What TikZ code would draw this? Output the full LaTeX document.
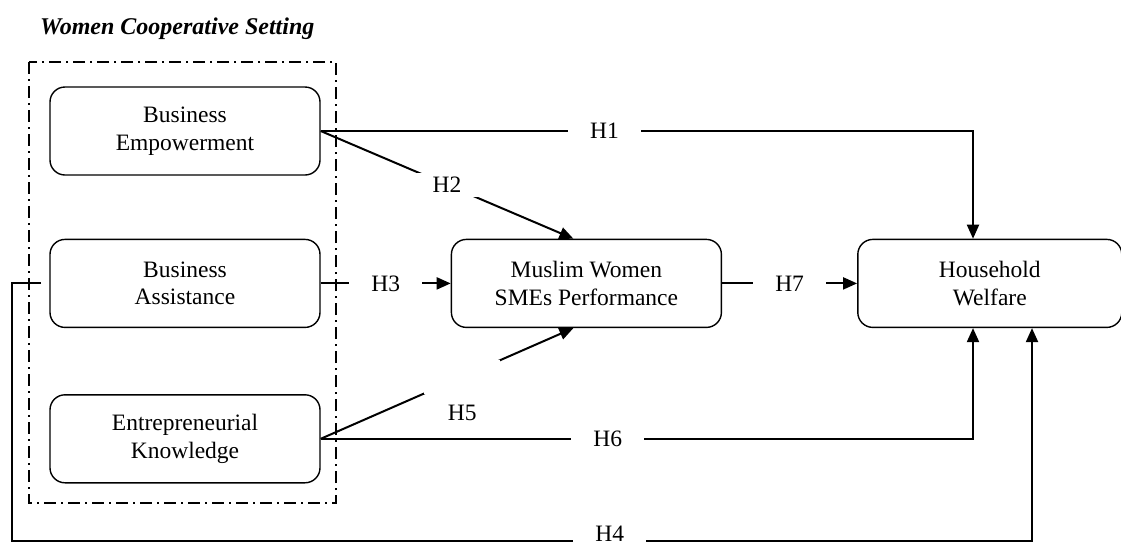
\documentclass[tikz,border=0pt]{standalone}
\usepackage{fontspec}
\setmainfont{Liberation Serif}
\usetikzlibrary{positioning,arrows.meta}

\begin{document}
\begin{tikzpicture}[x=1pt,y=-1pt,>={Triangle[length=14pt,width=12pt]},node distance=63pt]
  \tikzstyle{factor}=[draw,line width=1.4pt,rounded corners=15pt,minimum width=270pt,minimum height=88pt,align=center,font=\fontsize{23.5}{27.5}\selectfont]
  \tikzstyle{link}=[line width=2pt]
  \tikzstyle{hyp}=[fill=white,inner xsep=22pt,inner ysep=4pt,font=\fontsize{23.5}{27.5}\selectfont]
  \useasboundingbox (0,0) rectangle (1121,544);
  \node[anchor=base west,inner sep=0pt,font=\fontsize{24}{28}\selectfont\bfseries\itshape] (setting) at (40,34) {Women Cooperative Setting};
  \node[factor] (empower) at (185,131) {Business\\Empowerment};
  \node[factor,below=63pt of empower] (assist) {Business\\Assistance};
  \node[factor,below=66pt of assist] (know) {Entrepreneurial\\Knowledge};
  \node[factor,right=130pt of assist] (perform) {Muslim Women\\SMEs Performance};
  \node[factor,minimum width=264pt,right=135pt of perform] (welfare) {Household\\Welfare};
  % cooperative setting frame
  \draw[line width=2pt,dash pattern=on 12pt off 5pt on 2pt off 5pt] (29,62) rectangle (336,503);
  % turning points
  \coordinate (h1turn) at (973,0);
  \coordinate (h4turn) at (1032,0);
  \coordinate (h4start) at (41,283);
  \coordinate (h4left) at (12,541);
  \draw[link,->] (empower.east) -- node[hyp,pos=.435]{H1} (empower.east -| h1turn) -- (h1turn |- welfare.north);
  \draw[link,->] (empower.east) -- node[hyp]{H2} ([xshift=-13pt]perform.north);
  \draw[link,->] (assist.east) -- node[hyp]{H3} (perform.west);
  \draw[link,->] (h4start) -- (h4start -| h4left) -- (h4left) -- node[hyp,pos=.586,yshift=7pt,inner ysep=0pt]{H4} (h4left -| h4turn) -- (h4turn |- welfare.south);
  \draw[link,->] (know.east) -- node[fill=white,pos=.56,inner sep=0pt,minimum width=76pt,minimum height=34pt,label={[font=\fontsize{23.5}{27.5}\selectfont,label distance=6pt]below:H5}]{} ([xshift=-13pt]perform.south);
  \draw[link,->] (know.east) -- node[hyp,pos=.44]{H6} (know.east -| h1turn) -- (h1turn |- welfare.south);
  \draw[link,->] (perform.east) -- node[hyp]{H7} (welfare.west);
\end{tikzpicture}
\end{document}
